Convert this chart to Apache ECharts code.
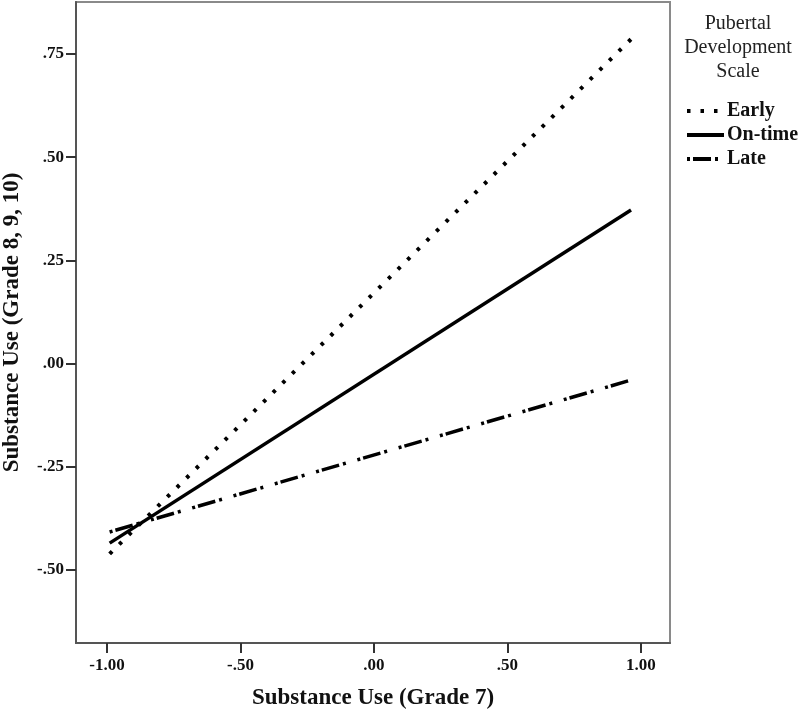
<!DOCTYPE html>
<html>
<head>
<meta charset="utf-8">
<script src="https://cdn.jsdelivr.net/npm/echarts@6/dist/echarts.min.js"></script>
<style>
  html, body { margin: 0; padding: 0; background: #fff; }
  #chart { width: 800px; height: 715px; }
</style>
</head>
<body>
<div id="chart"></div>
<script>
// grade 7 substance use at the two ends of each line
const xValues = [-0.99, 0.963]
// predicted substance use (grade 8, 9, 10)
const earlyValues = [-0.461, 0.786]
const onTimeValues = [-0.435, 0.372]
const lateValues = [-0.408, -0.04]

const seriesNames = ['Early', 'On-time', 'Late']
const xTicks = [-1, -0.5, 0, 0.5, 1]
const yTicks = [-0.5, -0.25, 0, 0.25, 0.5, 0.75]

const serif = 'Liberation Serif, Times New Roman, serif'

function fmt(v) {
  // SPSS style: .75, -.25, 1.00
  return v.toFixed(2).replace(/^(-?)0\./, '$1.')
}

function pairs(ys) {
  return xValues.map((x, i) => [x, ys[i]])
}

const chart = echarts.init(document.getElementById('chart'))
const options = {
  animation: false,
  backgroundColor: '#fff',
  grid: {
    left: 76,
    right: 130,
    top: 2,
    bottom: 72,
    outerBoundsMode: 'none',
    containLabel: false,
    show: true,
    borderColor: '#8a8a8a',
    borderWidth: 2
  },
  graphic: [
    {
      type: 'text',
      style: {
        x: 738,
        y: 12,
        text: 'Pubertal\nDevelopment\nScale',
        font: '20px ' + serif,
        fill: '#222',
        align: 'center',
        lineHeight: 24
      }
    }
  ],
  legend: {
    orient: 'vertical',
    left: 680,
    top: 96,
    itemWidth: 37,
    itemHeight: 14,
    itemGap: 4,
    data: seriesNames,
    itemStyle: { opacity: 0 },
    lineStyle: { width: 4 },
    textStyle: {
      fontFamily: serif,
      fontWeight: 'bold',
      fontSize: 20,
      color: '#111',
      padding: [0, 0, 0, -2]
    }
  },
  xAxis: {
    type: 'value',
    min: -1.116,
    max: 1.109,
    name: 'Substance Use (Grade 7)',
    nameLocation: 'middle',
    nameGap: 44,
    nameTextStyle: {
      fontFamily: serif,
      fontWeight: 'bold',
      fontSize: 23,
      color: '#111'
    },
    splitLine: { show: false },
    axisLine: { show: true, onZero: false, lineStyle: { color: '#555', width: 2 } },
    axisTick: {
      show: true,
      length: 10,
      customValues: xTicks,
      lineStyle: { color: '#333', width: 2 }
    },
    axisLabel: {
      customValues: xTicks,
      margin: 14,
      formatter: fmt,
      fontFamily: serif,
      fontWeight: 'bold',
      fontSize: 17,
      color: '#111'
    }
  },
  yAxis: {
    type: 'value',
    min: -0.677,
    max: 0.876,
    name: 'Substance Use (Grade 8, 9, 10)',
    nameLocation: 'middle',
    nameGap: 52,
    nameRotate: 90,
    nameTextStyle: {
      fontFamily: serif,
      fontWeight: 'bold',
      fontSize: 23,
      color: '#111'
    },
    splitLine: { show: false },
    axisLine: { show: true, onZero: false, lineStyle: { color: '#555', width: 2 } },
    axisTick: {
      show: true,
      length: 10,
      customValues: yTicks,
      lineStyle: { color: '#333', width: 2 }
    },
    axisLabel: {
      customValues: yTicks,
      margin: 12,
      formatter: fmt,
      fontFamily: serif,
      fontWeight: 'bold',
      fontSize: 17,
      color: '#111'
    }
  },
  series: [
    {
      name: 'Early',
      type: 'line',
      symbol: 'none',
      data: pairs(earlyValues),
      itemStyle: { color: '#000' },
      lineStyle: { color: '#000', width: 4, type: [3.5, 10] }
    },
    {
      name: 'On-time',
      type: 'line',
      symbol: 'none',
      data: pairs(onTimeValues),
      itemStyle: { color: '#000' },
      lineStyle: { color: '#000', width: 3.5, type: 'solid' }
    },
    {
      name: 'Late',
      type: 'line',
      symbol: 'none',
      data: pairs(lateValues),
      itemStyle: { color: '#000' },
      lineStyle: { color: '#000', width: 3.5, type: [3, 3, 18, 4, 3, 12] }
    }
  ]
}

chart.setOption(options)
</script>
</body>
</html>
